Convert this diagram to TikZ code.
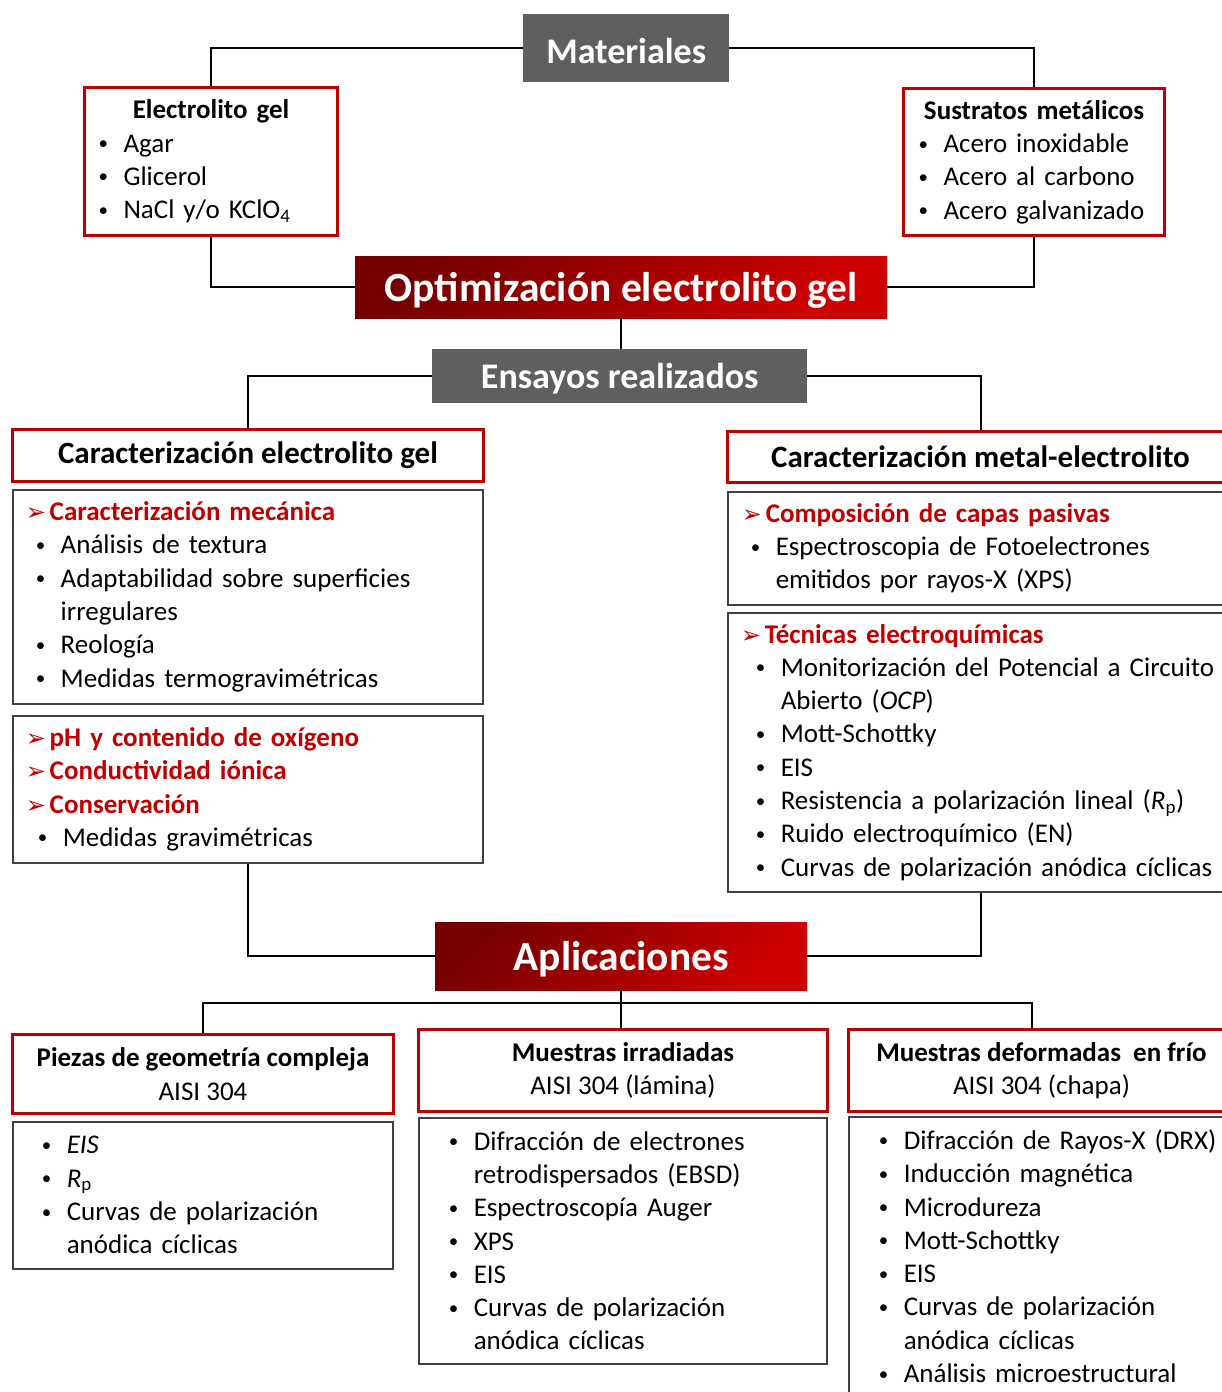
\documentclass[tikz,border=0pt]{standalone}
\usepackage{fontspec}
\setmainfont{Carlito}
\newfontfamily\dejavu{DejaVu Sans}
\usetikzlibrary{calc}

\definecolor{hred}{RGB}{192,0,0}
\definecolor{dkred}{RGB}{118,0,0}
\definecolor{brred}{RGB}{206,0,0}
\definecolor{hgray}{RGB}{95,95,95}
\definecolor{lgray}{RGB}{64,64,64}

% bullets and headings inside the boxes
\newcommand{\bul}{\makebox[27pt][l]{\hspace{2pt}\raisebox{2.5pt}{\fontsize{19}{19}\selectfont\textbullet}}}
\newcommand{\gap}{\hspace*{27pt}}
\newcommand{\sbul}[1][8pt]{\hspace*{#1}\bul\ignorespaces}
\newcommand{\sgap}[1][8pt]{\hspace*{\dimexpr#1+27pt\relax}\ignorespaces}
\newcommand{\hd}[1]{{\color{hred}\makebox[24pt][l]{\dejavu\fontsize{24}{24}\selectfont\char"27A2}\textbf{#1}}}

\begin{document}
\begin{tikzpicture}[x=1pt, y=-1pt, font=\fontsize{27}{33.3}\selectfont,
  graybox/.style={fill=hgray, text=white, inner sep=0pt, anchor=north west, font=\fontsize{36}{40}\selectfont\bfseries},
  shadebox/.style={top color=dkred, bottom color=brred, shading angle=45, text=white, inner sep=0pt, anchor=north west, font=\fontsize{41.5}{48}\selectfont\bfseries},
  titlebox/.style={draw=hred, line width=3pt, inner sep=0pt, anchor=north west, align=center},
  listbox/.style={draw=lgray, line width=1.5pt, inner ysep=0pt, anchor=north west, align=left},
  link/.style={line width=2pt}]
\useasboundingbox (0,0) rectangle (1221,1392);

% Materiales
\node[graybox, text height=31pt, text depth=0pt, minimum width=206, minimum height=68] (mat) at (523,14) {Materiales};
\node[titlebox, align=left, inner xsep=12pt, text width=229, minimum height=148] (elec) at (83,86)
  {\makebox[\hsize][c]{\textbf{Electrolito gel}}\\ \bul Agar\\ \bul Glicerol\\ \bul NaCl y/o KClO\textsubscript{4}};
\node[titlebox, align=left, inner xsep=13pt, text width=235, minimum height=147] (sus) at (902,87)
  {\makebox[\hsize][c]{\textbf{Sustratos metálicos}}\\ \bul Acero inoxidable\\ \bul Acero al carbono\\ \bul Acero galvanizado};
\node[shadebox, text height=36pt, text depth=8pt, minimum width=532, minimum height=62] (opt) at (355,256) {Optimización electrolito gel};

% Ensayos
\node[graybox, text height=30pt, text depth=6pt, minimum width=375, minimum height=54] (ens) at (432,349) {Ensayos realizados};
\node[titlebox, font=\fontsize{31}{36}\selectfont\bfseries, minimum width=471, minimum height=52] (cel) at (11,428) {Caracterización electrolito gel};
\node[titlebox, font=\fontsize{31}{36}\selectfont\bfseries, minimum width=506, minimum height=51] (cme) at (726,430) {Caracterización metal-electrolito};

\node[listbox, inner xsep=13pt, text width=444, minimum height=214] (lb1) at (12,489)
  {\hd{Caracterización mecánica}\\ \sbul Análisis de textura\\ \sbul Adaptabilidad sobre superficies\\ \sgap irregulares\\ \sbul Reología\\ \sbul Medidas termogravimétricas};
\node[listbox, inner xsep=13pt, text width=444, minimum height=147] (lb2) at (12,715)
  {\hd{pH y contenido de oxígeno}\\ \hd{Conductividad iónica}\\ \hd{Conservación}\\ \sbul[10pt] Medidas gravimétricas};
\node[listbox, inner xsep=14pt, text width=540, minimum height=113] (rb1) at (727,491)
  {\hd{Composición de capas pasivas}\\ \sbul[7pt] Espectroscopia de Fotoelectrones\\ \sgap[7pt] emitidos por rayos-X (XPS)};
\node[listbox, inner xsep=13pt, text width=540, minimum height=279] (rb2) at (727,612)
  {\hd{Técnicas electroquímicas}\\ \sbul[13pt] Monitorización del Potencial a Circuito\\ \sgap[13pt] Abierto (\textit{OCP})\\
   \sbul[13pt] Mott-Schottky\\ \sbul[13pt] EIS\\ \sbul[13pt] Resistencia a polarización lineal (\textit{R}\textsubscript{p})\\
   \sbul[13pt] Ruido electroquímico (EN)\\ \sbul[13pt] Curvas de polarización anódica cíclicas};

% Aplicaciones
\node[shadebox, text height=37pt, text depth=8pt, minimum width=372, minimum height=68] (apl) at (435,922) {Aplicaciones};
\node[titlebox, minimum width=381, minimum height=79] (pie) at (11,1033) {\textbf{Piezas de geometría compleja}\\ AISI 304};
\node[titlebox, minimum width=409, minimum height=82] (irr) at (417,1028) {\textbf{Muestras irradiadas}\\ AISI 304 (lámina)};
\node[titlebox, minimum width=386, minimum height=82] (def) at (847,1028) {\textbf{Muestras deformadas\ \ en frío}\\ AISI 304 (chapa)};
\node[listbox, inner xsep=27pt, text width=326, minimum height=147] (pic) at (12,1121)
  {\bul\textit{EIS}\\ \bul\textit{R}\textsubscript{p}\\ \bul Curvas de polarización\\ \gap anódica cíclicas};
\node[listbox, inner xsep=28pt, text width=352, minimum height=246] (irc) at (418,1117)
  {\bul Difracción de electrones\\ \gap retrodispersados (EBSD)\\ \bul Espectroscopía Auger\\ \bul XPS\\ \bul EIS\\
   \bul Curvas de polarización\\ \gap anódica cíclicas};
\node[listbox, inner xsep=28pt, text width=400, minimum height=279] (dec) at (848,1116)
  {\bul Difracción de Rayos-X (DRX)\\ \bul Inducción magnética\\ \bul Microdureza\\ \bul Mott-Schottky\\ \bul EIS\\
   \bul Curvas de polarización\\ \gap anódica cíclicas\\ \bul Análisis microestructural};

\coordinate (bus) at (621,1003);
\coordinate (defin) at (1032,1028);

% connectors
\draw[link] (mat.west) -| (elec.north);
\draw[link] (mat.east) -| (sus.north);
\draw[link] (elec.south) |- (opt.west);
\draw[link] (sus.south) |- (opt.east);
\draw[link] (opt.south) -- (opt.south |- ens.north);
\draw[link] (ens.west) -| (cel.north);
\draw[link] (ens.east) -| (cme.north);
\draw[link] (lb2.south) |- (apl.west);
\draw[link] (rb2.south -| cme.north) |- (apl.east);
\draw[link] (apl.south) -- (apl.south |- irr.north);
\draw[link] (pie.north) |- (bus) -| (defin);
\end{tikzpicture}
\end{document}
